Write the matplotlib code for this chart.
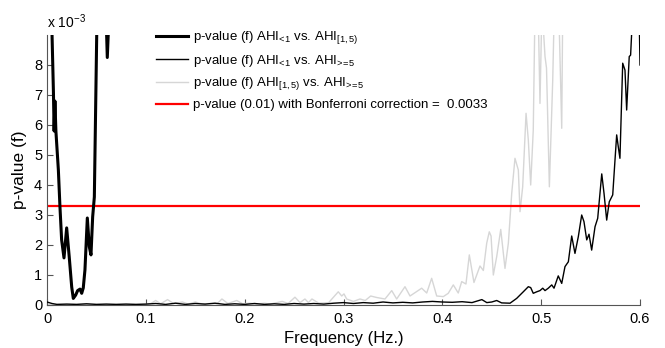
import matplotlib
matplotlib.use("Agg")
import matplotlib.pyplot as plt

plt.rcParams['font.family'] = ['Liberation Sans', 'DejaVu Sans']
plt.rcParams['mathtext.fontset'] = 'custom'
plt.rcParams['mathtext.rm'] = 'Liberation Sans'
plt.rcParams['mathtext.it'] = 'Liberation Sans:italic'
plt.rcParams['mathtext.bf'] = 'Liberation Sans:bold'

# ---- data (p-values in units of 1e-3) ----
f1 = [0.000, 0.004, 0.0065, 0.0072, 0.0080, 0.0090, 0.0115, 0.0131, 0.0148, 0.0172,
      0.0199, 0.0225, 0.0250, 0.0266, 0.0290, 0.0310, 0.0334, 0.0351, 0.0367, 0.0384,
      0.0408, 0.0428, 0.0445, 0.0462, 0.0479, 0.0503, 0.0525, 0.0560, 0.0610, 0.0680,
      0.080, 0.100, 0.200, 0.300, 0.400, 0.500, 0.600]
p1 = [14.0, 10.5, 7.1, 5.8, 6.8, 5.8, 4.5, 3.28, 2.17, 1.57,
      2.57, 1.6, 0.6, 0.22, 0.33, 0.48, 0.53, 0.39, 0.57, 1.17,
      2.9, 1.94, 1.67, 2.94, 3.6, 9.0, 11.0, 14.0, 8.25, 14.0,
      16.0, 18.0, 25.0, 30.0, 30.0, 25.0, 20.0]

f2 = [0.000, 0.005, 0.01, 0.02, 0.03, 0.04, 0.05, 0.06, 0.07, 0.08, 0.09, 0.10,
      0.11, 0.12, 0.13, 0.14, 0.15, 0.16, 0.17, 0.18, 0.19, 0.20, 0.21, 0.22,
      0.23, 0.24, 0.25, 0.26, 0.27, 0.28, 0.29, 0.30, 0.31, 0.32, 0.33, 0.34,
      0.35, 0.36, 0.37, 0.38, 0.39, 0.40, 0.41, 0.42, 0.43, 0.44, 0.445, 0.45,
      0.455, 0.46, 0.4685, 0.4752, 0.4819, 0.4870, 0.4894, 0.4920, 0.4955, 0.4988,
      0.5016, 0.5039, 0.5072, 0.5107, 0.5130, 0.5173, 0.5208, 0.5241, 0.5275, 0.5309,
      0.5342, 0.5376, 0.5410, 0.5433, 0.5461, 0.5484, 0.5511, 0.5545, 0.5572, 0.5613,
      0.5636, 0.5663, 0.5689, 0.5724, 0.5747, 0.5764, 0.5780, 0.5797, 0.5825, 0.5848,
      0.5865, 0.5891, 0.5905, 0.5922, 0.5950, 0.5985, 0.6000]
p2 = [0.10, 0.05, 0.02, 0.03, 0.02, 0.04, 0.02, 0.03, 0.02, 0.03, 0.02, 0.03,
      0.05, 0.02, 0.06, 0.02, 0.05, 0.03, 0.06, 0.02, 0.04, 0.02, 0.05, 0.02,
      0.04, 0.02, 0.05, 0.03, 0.05, 0.03, 0.06, 0.08, 0.05, 0.08, 0.06, 0.10,
      0.07, 0.09, 0.07, 0.10, 0.12, 0.10, 0.09, 0.11, 0.08, 0.18, 0.08, 0.10,
      0.15, 0.07, 0.06, 0.22, 0.44, 0.61, 0.58, 0.39, 0.44, 0.48,
      0.56, 0.48, 0.56, 0.67, 0.56, 0.97, 0.72, 1.28, 1.44, 2.3,
      1.72, 2.28, 3.0, 2.78, 2.17, 2.36, 1.83, 2.61, 2.89, 4.37,
      3.72, 2.83, 3.44, 3.67, 4.83, 5.67, 5.28, 4.89, 8.06, 7.83,
      6.5, 8.28, 8.33, 9.5, 11.0, 11.0, 8.0]

f3 = [0.000, 0.050, 0.100, 0.105, 0.110, 0.115, 0.122, 0.128, 0.137, 0.143, 0.150,
      0.157, 0.165, 0.172, 0.177, 0.183, 0.192, 0.198, 0.205, 0.212, 0.220, 0.226,
      0.238, 0.244, 0.2509, 0.2560, 0.2610, 0.2645, 0.2681, 0.2750, 0.2850, 0.2947,
      0.2982, 0.3005, 0.3032, 0.3100, 0.3167, 0.3220, 0.3275, 0.3336, 0.3420, 0.3488,
      0.3538, 0.3622, 0.3673, 0.3791, 0.3842, 0.3892, 0.3943, 0.4010, 0.4060, 0.4111,
      0.4161, 0.4196, 0.4239, 0.4273, 0.4320, 0.4381, 0.4415, 0.4449, 0.4475, 0.4493,
      0.4516, 0.4550, 0.4591, 0.4634, 0.4668, 0.4702, 0.4735, 0.4769, 0.4786, 0.4813,
      0.4847, 0.4870, 0.4894, 0.4920, 0.4938, 0.4963, 0.4988, 0.5008, 0.5039, 0.5054,
      0.5083, 0.5117, 0.5140, 0.5170, 0.5208, 0.5221, 0.530, 0.550, 0.600]
p3 = [0.02, 0.02, 0.02, 0.05, 0.15, 0.04, 0.18, 0.05, 0.10, 0.03, 0.10,
      0.03, 0.05, 0.04, 0.20, 0.05, 0.15, 0.04, 0.06, 0.03, 0.06, 0.03,
      0.12, 0.05, 0.26, 0.08, 0.20, 0.08, 0.20, 0.06, 0.08, 0.44,
      0.30, 0.37, 0.20, 0.12, 0.20, 0.15, 0.30, 0.25, 0.20, 0.48,
      0.20, 0.61, 0.30, 0.56, 0.40, 0.89, 0.30, 0.28, 0.39, 0.67,
      0.40, 0.78, 0.70, 1.67, 0.75, 1.30, 1.15, 2.06, 2.44, 2.30,
      1.00, 1.61, 2.52, 1.22, 2.06, 3.72, 4.89, 4.50, 3.11, 3.94,
      6.39, 5.50, 4.00, 5.83, 10.0, 11.0, 6.72, 10.0, 8.28, 7.90,
      3.94, 7.50, 11.0, 11.0, 5.89, 11.0, 14.0, 18.0, 25.0]

bonferroni = 0.0033 * 1000
labels = [r'p-value (f) AHI$_{\!<\!1}$ vs. AHI$_{[1,5)}$',
          r'p-value (f) AHI$_{\!<\!1}$ vs. AHI$_{\!>\!\!=\!5}$',
          r'p-value (f) AHI$_{[1,5)}$ vs. AHI$_{\!>\!\!=\!5}$',
          'p-value (0.01) with Bonferroni correction =  0.0033']
xticks = [0, 0.1, 0.2, 0.3, 0.4, 0.5, 0.6]
xticklabels = ['0', '0.1', '0.2', '0.3', '0.4', '0.5', '0.6']
yticks = [0, 1, 2, 3, 4, 5, 6, 7, 8]

fig = plt.figure(figsize=(6.65, 3.48), dpi=100)
ax = fig.add_axes([47/665, 43/348, 593/665, 270/348])

l1, = ax.plot(f1, p1, color='black', lw=2.2, label=labels[0])
l2, = ax.plot(f2, p2, color='black', lw=1.0, label=labels[1])
l3, = ax.plot(f3, p3, color='#d6d6d6', lw=1.0, label=labels[2])
l4 = ax.axhline(bonferroni, color='red', lw=1.6, label=labels[3])
l2.set_zorder(3)
l1.set_zorder(4)

ax.set_xlim(0, 0.6)
ax.set_ylim(0, 9)
ax.set_xticks(xticks)
ax.set_xticklabels(xticklabels)
ax.set_yticks(yticks)
ax.tick_params(direction='in', length=4, labelsize=10.5, color='#555555')
ax.tick_params(axis='x', pad=5)
for s in ['top', 'right']:
    ax.spines[s].set_visible(False)
for s in ['left', 'bottom']:
    ax.spines[s].set_color('#555555')
    ax.spines[s].set_linewidth(0.8)

ax.set_xlabel('Frequency (Hz.)', fontsize=12, labelpad=4)
ax.set_ylabel('p-value (f)', fontsize=12.5, labelpad=5)
fig.text(47/665, 1 - 28/348, r'x 10$^{-3}$', fontsize=10, ha='left', va='baseline')

leg = ax.legend(handles=[l1, l2, l3, l4], loc='upper left',
                bbox_to_anchor=(147/665, 1 - 20/348), bbox_transform=fig.transFigure,
                frameon=False, fontsize=9.5, handlelength=2.4, handletextpad=0.4,
                labelspacing=0.5, borderpad=0.2)

fig.savefig('out.png', dpi=100)
